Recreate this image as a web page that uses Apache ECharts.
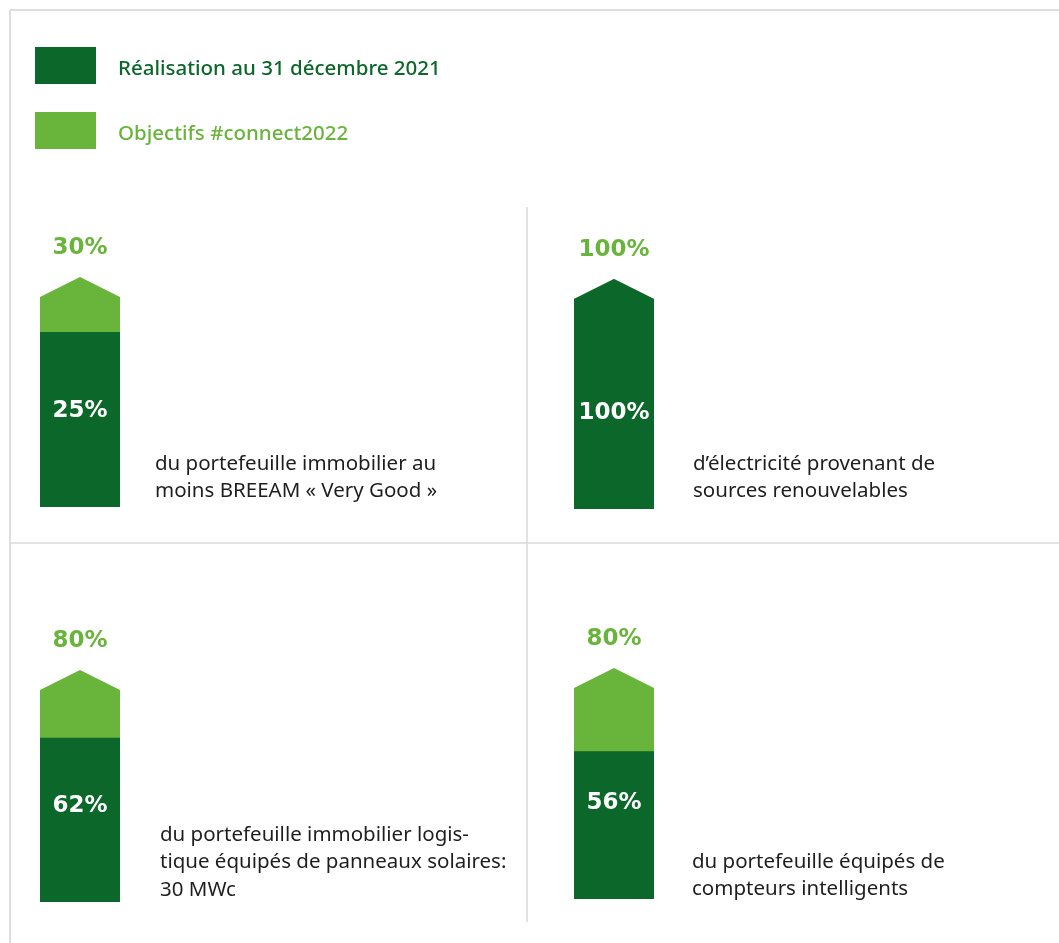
<!DOCTYPE html>
<html>
<head>
<meta charset="utf-8">
<script src="https://cdn.jsdelivr.net/npm/echarts@6/dist/echarts.min.js"></script>
<style>
  html, body { margin: 0; padding: 0; background: #fff; }
  #chart { width: 1059px; height: 943px; }
</style>
</head>
<body>
<div id="chart"></div>
<script>
// panels: top-left, top-right, bottom-left, bottom-right
const realised = [25, 100, 62, 56]
const targets = [30, 100, 80, 80]
const descriptions = [
  ['du portefeuille immobilier au', 'moins BREEAM « Very Good »'],
  ['d\u2019électricité provenant de', 'sources renouvelables'],
  ['du portefeuille immobilier logis-', 'tique équipés de panneaux solaires:', '30 MWc'],
  ['du portefeuille équipés de', 'compteurs intelligents']
]
const seriesNames = ['Réalisation au 31 décembre 2021', 'Objectifs #connect2022']

const DARK = '#0b672a'
const LIGHT = '#69b43a'
const TIP = 20
const LINE_H = 27.5

const chart = echarts.init(document.getElementById('chart'))

// grid placement for each panel (shoulder of the arrow = target value)
const grids = [
  { left: 40, top: 297, width: 80, height: 210 },
  { left: 574, top: 299, width: 80, height: 210 },
  { left: 40, top: 690, width: 80, height: 212 },
  { left: 574, top: 688, width: 80, height: 211 }
]
// x and centre of first text line
const textPos = [
  { x: 155, y: 464 },
  { x: 693, y: 464 },
  { x: 160, y: 835 },
  { x: 692, y: 862 }
]

const arrowPoints = (cx, w, topY, bottomY) => [
  [cx - w / 2, bottomY],
  [cx - w / 2, topY],
  [cx, topY - TIP],
  [cx + w / 2, topY],
  [cx + w / 2, bottomY]
]

const series = []
grids.forEach((g, i) => {
  series.push({
    name: seriesNames[1],
    type: 'custom',
    xAxisIndex: i,
    yAxisIndex: i,
    itemStyle: { color: LIGHT },
    data: [[0, targets[i]]],
    renderItem: (params, api) => {
      const top = api.coord([0, api.value(1)])
      const base = api.coord([0, 0])
      const w = api.size([1, 0])[0]
      return {
        type: 'group',
        children: [
          {
            type: 'polygon',
            shape: { points: arrowPoints(top[0], w, top[1], base[1]) },
            style: { fill: LIGHT }
          },
          {
            type: 'text',
            x: top[0],
            y: top[1] - TIP - 29,
            style: {
              text: api.value(1) + '%',
              fill: LIGHT,
              font: 'bold 23px "DejaVu Sans"',
              align: 'center',
              verticalAlign: 'middle'
            }
          }
        ]
      }
    }
  })
  series.push({
    name: seriesNames[0],
    type: 'custom',
    xAxisIndex: i,
    yAxisIndex: i,
    itemStyle: { color: DARK },
    data: [[0, realised[i], targets[i]]],
    renderItem: (params, api) => {
      const top = api.coord([0, api.value(1)])
      const base = api.coord([0, 0])
      const w = api.size([1, 0])[0]
      const full = api.value(1) >= api.value(2)
      const shape = full
        ? { type: 'polygon', shape: { points: arrowPoints(top[0], w, top[1], base[1]) }, style: { fill: DARK } }
        : { type: 'rect', shape: { x: top[0] - w / 2, y: top[1], width: w, height: base[1] - top[1] }, style: { fill: DARK } }
      return {
        type: 'group',
        children: [
          shape,
          {
            type: 'text',
            x: top[0],
            y: base[1] - 96,
            style: {
              text: api.value(1) + '%',
              fill: '#fff',
              font: 'bold 23px "DejaVu Sans"',
              align: 'center',
              verticalAlign: 'middle'
            }
          }
        ]
      }
    }
  })
})

const graphics = [
  // outer frame
  { type: 'line', shape: { x1: 10, y1: 10, x2: 1059, y2: 10 }, style: { stroke: '#dedede', lineWidth: 2 }, silent: true },
  { type: 'line', shape: { x1: 10, y1: 10, x2: 10, y2: 943 }, style: { stroke: '#dedede', lineWidth: 2 }, silent: true },
  // panel dividers
  { type: 'line', shape: { x1: 527, y1: 207, x2: 527, y2: 922 }, style: { stroke: '#d9d9d9', lineWidth: 1.5 }, silent: true },
  { type: 'line', shape: { x1: 10, y1: 543, x2: 1059, y2: 543 }, style: { stroke: '#d9d9d9', lineWidth: 1.5 }, silent: true }
]
descriptions.forEach((lines, i) => {
  graphics.push({
    type: 'text',
    x: textPos[i].x,
    y: textPos[i].y - LINE_H / 2,
    silent: true,
    style: {
      text: lines.join('\n'),
      fill: '#1e1e1e',
      font: '20.5px "Noto Sans"',
      lineHeight: LINE_H,
      verticalAlign: 'top'
    }
  })
})

const legendText = { fontFamily: 'Noto Sans', fontSize: 20.5, fontWeight: 500, padding: [8, 0, 0, 17] }

const option = {
  animation: false,
  legend: {
    orient: 'vertical',
    left: 35,
    top: 47,
    padding: 0,
    itemWidth: 61,
    itemHeight: 37,
    itemGap: 28,
    icon: 'rect',
    selectedMode: false,
    data: seriesNames,
    formatter: name => (name === seriesNames[0] ? '{d|' : '{l|') + name + '}',
    textStyle: {
      rich: {
        d: { ...legendText, color: DARK },
        l: { ...legendText, color: LIGHT }
      }
    }
  },
  grid: grids.map(g => ({ ...g })),
  xAxis: grids.map((g, i) => ({
    type: 'category',
    gridIndex: i,
    data: [''],
    show: false
  })),
  yAxis: grids.map((g, i) => ({
    type: 'value',
    gridIndex: i,
    min: 0,
    max: targets[i],
    show: false
  })),
  graphic: graphics,
  series: series
}

chart.setOption(option)
</script>
</body>
</html>
